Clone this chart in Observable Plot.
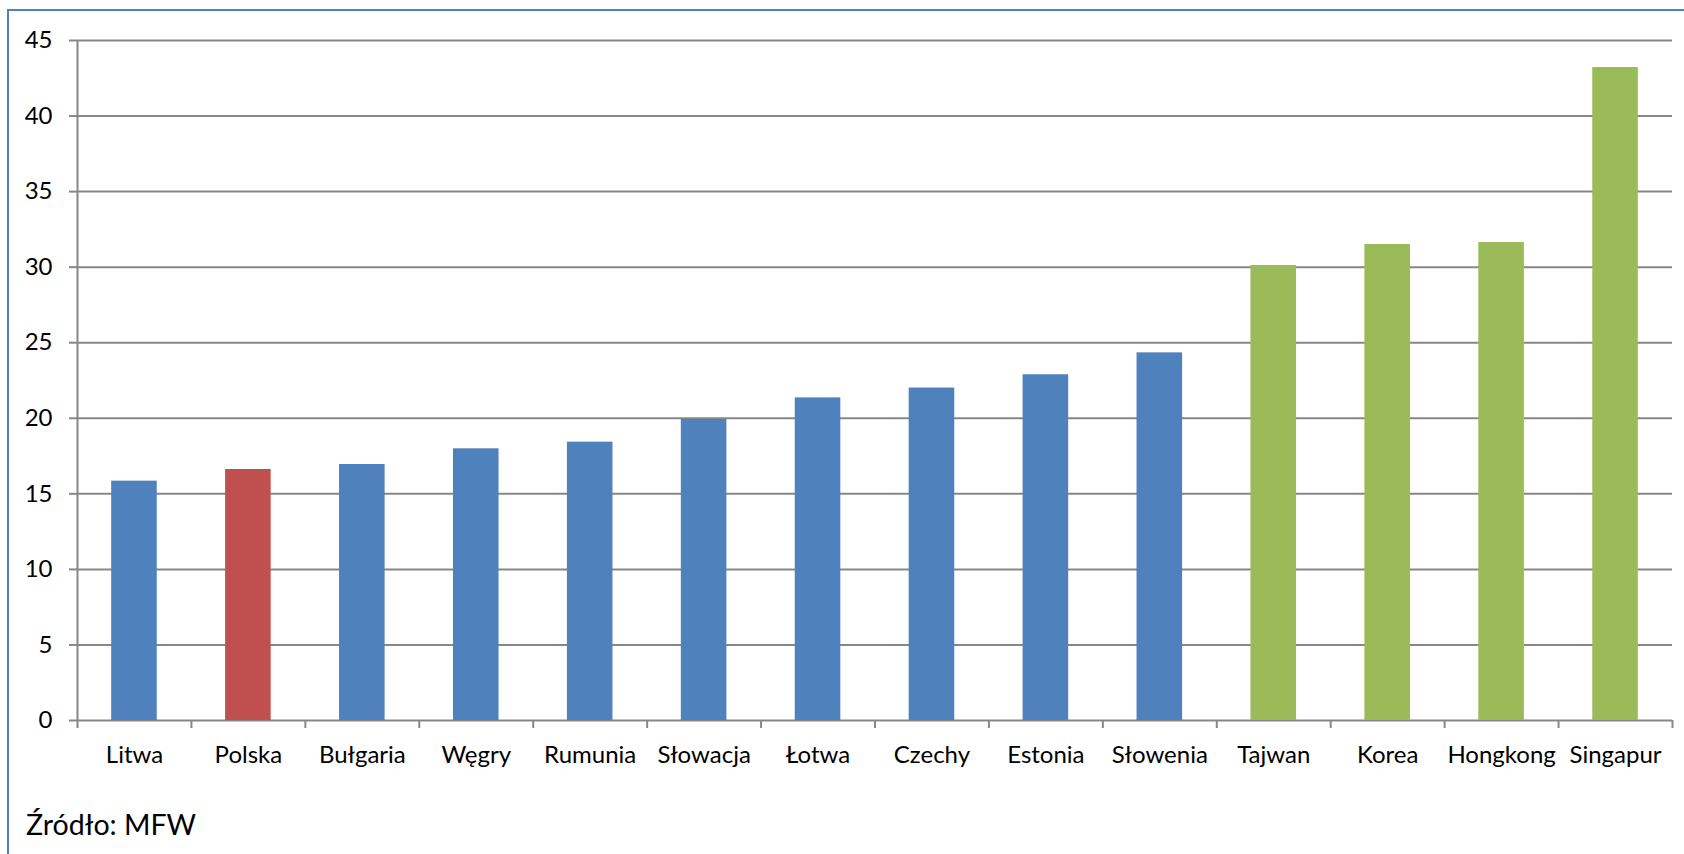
<!DOCTYPE html>
<html>
<head>
<meta charset="utf-8">
<script src="https://cdn.jsdelivr.net/npm/d3@7"></script>
<script src="https://cdn.jsdelivr.net/npm/@observablehq/plot@0.6"></script>
<style>
  html, body { margin: 0; padding: 0; width: 1684px; height: 854px; overflow: hidden; background: #fff; }
  #frame { position: absolute; left: 7px; top: 9px; width: 1720px; height: 900px; border: 2px solid #4f81bd; box-sizing: border-box; }
  #chart { position: absolute; left: 0; top: 0; }
  #caption { position: absolute; left: 26px; top: 810px; font-family: Lato, "Open Sans", sans-serif; font-size: 28.5px; color: #000; line-height: 1; }
</style>
</head>
<body>
<div id="frame"></div>
<div id="chart"></div>
<div id="caption">Źródło: MFW</div>
<script>
const categories = ["Litwa", "Polska", "Bułgaria", "Węgry", "Rumunia", "Słowacja", "Łotwa", "Czechy", "Estonia", "Słowenia", "Tajwan", "Korea", "Hongkong", "Singapur"];
const values = [15.84, 16.61, 16.94, 17.98, 18.42, 19.92, 21.35, 22.0, 22.88, 24.33, 30.11, 31.5, 31.63, 43.21];
const groups = ["cee", "pl", "cee", "cee", "cee", "cee", "cee", "cee", "cee", "cee", "asia", "asia", "asia", "asia"];
const yTicks = [0, 5, 10, 15, 20, 25, 30, 35, 40, 45];

const data = categories.map((c, i) => ({country: c, value: values[i], group: groups[i]}));

const W = 1684, H = 780, mL = 77, mR = 12, mT = 40, mB = 60;
const step = (W - mL - mR) / categories.length;
const gray = "#878787";
const font = 'Lato, "Open Sans", sans-serif';

const chart = Plot.plot({
  width: W,
  height: H,
  marginLeft: mL,
  marginRight: mR,
  marginTop: mT,
  marginBottom: mB,
  style: {fontFamily: font, fontSize: "24px", color: "#000", background: "transparent"},
  x: {domain: categories, paddingInner: 0.6, paddingOuter: 0.3, round: false, label: null},
  y: {domain: [0, 45], label: null},
  color: {domain: ["cee", "pl", "asia"], range: ["#4f81bd", "#c0504d", "#9bbb59"]},
  marks: [
    Plot.ruleY(yTicks, {stroke: gray, strokeWidth: 2}),
    Plot.barY(data, {x: "country", y: "value", fill: "group"}),
    // left axis line (first band boundary)
    Plot.ruleX([categories[0]], {dx: -step / 2, y1: -0.53, y2: 45, stroke: gray, strokeWidth: 2}),
    // boundary ticks below the baseline
    Plot.ruleX(categories, {dx: step / 2, y1: -0.53, y2: 0, stroke: gray, strokeWidth: 2}),
    Plot.axisY({ticks: yTicks, tickSize: 8, tickPadding: 17, stroke: gray, strokeWidth: 2, tickFormat: d => String(d), fontSize: 24}),
    Plot.axisX({tickSize: 0, tickPadding: 25, fontSize: 24})
  ]
});
document.getElementById("chart").appendChild(chart);
</script>
</body>
</html>
